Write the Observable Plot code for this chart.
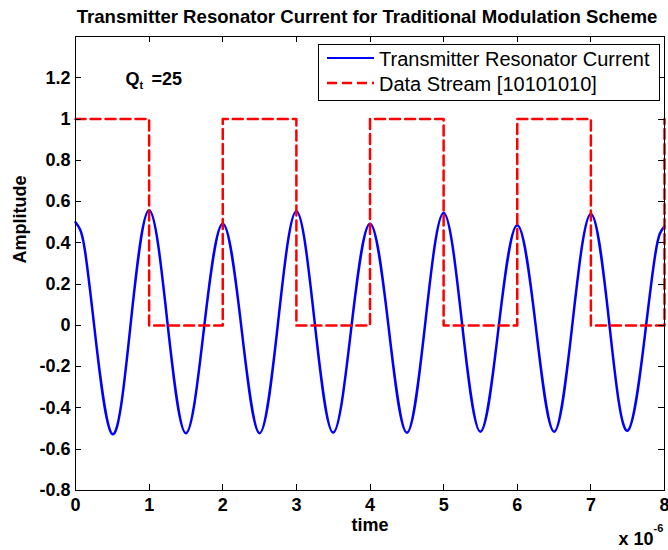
<!DOCTYPE html>
<html><head><meta charset="utf-8">
<script src="https://cdn.jsdelivr.net/npm/d3@7"></script>
<script src="https://cdn.jsdelivr.net/npm/@observablehq/plot@0.6"></script>
<style>
html,body{margin:0;padding:0;background:#fff}
#chart{width:668px;height:550px}
</style>
</head><body><div id="chart"></div>
<script>
// ---- data (time in units of 1e-6 s) ----
const time = [0, 0.0625, 0.125, 0.25, 0.5, 0.75, 1, 1.25, 1.5, 1.75, 2, 2.25, 2.5, 2.75, 3, 3.25, 3.5, 3.75,
  4, 4.25, 4.5, 4.75, 5, 5.25, 5.5, 5.75, 6, 6.25, 6.5, 6.75, 7, 7.25, 7.5, 7.75, 7.875, 7.9375, 8];
const current = [0.50, 0.465, 0.37, 0.01, -0.527, 0.01, 0.558, 0.01, -0.522, 0.0, 0.493, 0.0, -0.522, 0.01, 0.553, 0.01, -0.519, 0.0,
  0.493, 0.0, -0.520, 0.01, 0.545, 0.01, -0.515, 0.0, 0.485, 0.0, -0.515, 0.01, 0.540, 0.01, -0.510, 0.0, 0.345, 0.445, 0.480];
const bitTimes = [0, 1, 2, 3, 4, 5, 6, 7, 8];
const bits = [1, 0, 1, 0, 1, 0, 1, 0, 1];
const xTicks = [0, 1, 2, 3, 4, 5, 6, 7, 8];
const xTickLabels = ["0", "1", "2", "3", "4", "5", "6", "7", "8"];
const yTicks = [-0.8, -0.6, -0.4, -0.2, 0, 0.2, 0.4, 0.6, 0.8, 1, 1.2];
const yTickLabels = ["-0.8", "-0.6", "-0.4", "-0.2", "0", "0.2", "0.4", "0.6", "0.8", "1", "1.2"];
const seriesNames = ["Transmitter Resonator Current", "Data Stream [10101010]"];
const titleText = "Transmitter Resonator Current for Traditional Modulation Scheme";
const xLabel = "time";
const xExponent = ["x 10", "-6"];
const yLabel = "Amplitude";
const qLabel = ["Q", "t", "=25"];

// ---- layout ----
const W = 668, H = 550, mL = 75, mR = 4, mT = 36, mB = 60;
const FONT = "'Liberation Sans', Arial, Helvetica, sans-serif";
const BLUE = "#0000ff", RED = "#ff0000";
const TICK = 6;

const currentData = time.map((t, i) => ({t, v: current[i]}));
const streamData = bitTimes.map((t, i) => ({t, v: bits[i]}));

const plot = Plot.plot({
  width: W, height: H,
  marginLeft: mL, marginRight: mR, marginTop: mT, marginBottom: mB,
  style: {fontFamily: FONT, fontSize: "18px", fontWeight: "bold", background: "#fff", color: "#000", overflow: "visible"},
  x: {domain: [0, 8]},
  y: {domain: [-0.8, 1.4]},
  marks: [
    Plot.axisX(xTicks, {anchor: "bottom", tickSize: 0, tickPadding: 8, tickFormat: d => xTickLabels[xTicks.indexOf(d)], label: null, fontSize: 18, fontWeight: "bold"}),
    Plot.axisY(yTicks, {anchor: "left", tickSize: 0, tickPadding: 5, tickFormat: d => yTickLabels[yTicks.indexOf(d)], label: null, fontSize: 18, fontWeight: "bold"}),
    Plot.line(currentData, {x: "t", y: "v", curve: "natural", stroke: BLUE, strokeWidth: 2.5}),
    Plot.line(streamData, {x: "t", y: "v", curve: "step-after", stroke: RED, strokeWidth: 2.5, strokeDasharray: "10,5"}),
    Plot.frame({stroke: "#000", strokeWidth: 1}),
    // title & axis labels
    Plot.text([titleText], {frameAnchor: "top", lineAnchor: "bottom", dy: -14, dx: -3, fontSize: 18.6, fontWeight: "bold"}),
    Plot.text([xLabel], {frameAnchor: "bottom", lineAnchor: "bottom", dy: 40, fontSize: 18, fontWeight: "bold"}),
    Plot.text([xExponent[0]], {frameAnchor: "bottom-right", textAnchor: "end", lineAnchor: "bottom", dx: -11, dy: 54, fontSize: 18, fontWeight: "bold"}),
    Plot.text([xExponent[1]], {frameAnchor: "bottom-right", textAnchor: "start", lineAnchor: "bottom", dx: -11, dy: 41, fontSize: 11, fontWeight: "bold"}),
    Plot.text([yLabel], {frameAnchor: "left", rotate: -90, dx: -55, fontSize: 18, fontWeight: "bold"}),
    // Q_t annotation
    Plot.text([qLabel[0]], {frameAnchor: "top-left", textAnchor: "start", lineAnchor: "bottom", dx: 50, dy: 48, fontSize: 18, fontWeight: "bold"}),
    Plot.text([qLabel[1]], {frameAnchor: "top-left", textAnchor: "start", lineAnchor: "bottom", dx: 64, dy: 52, fontSize: 11, fontWeight: "bold"}),
    Plot.text([qLabel[2]], {frameAnchor: "top-left", textAnchor: "start", lineAnchor: "bottom", dx: 76, dy: 48, fontSize: 18, fontWeight: "bold"})
  ]
});
document.getElementById("chart").appendChild(plot);

const svg = d3.select(plot);
const xs = plot.scale("x"), ys = plot.scale("y");
const x0 = mL, x1 = W - mR, y0 = mT, y1 = H - mB;

// ---- inward ticks on all four sides (positions from Plot's scales) ----
const tg = svg.append("g").attr("stroke", "#000").attr("stroke-width", 1);
xTicks.forEach(t => {
  const px = Math.round(xs.apply(t)) + 0.5;
  tg.append("line").attr("x1", px).attr("x2", px).attr("y1", y1).attr("y2", y1 - TICK);
  tg.append("line").attr("x1", px).attr("x2", px).attr("y1", y0).attr("y2", y0 + TICK);
});
yTicks.forEach(v => {
  const py = Math.round(ys.apply(v)) + 0.5;
  tg.append("line").attr("x1", x0).attr("x2", x0 + TICK).attr("y1", py).attr("y2", py);
  tg.append("line").attr("x1", x1).attr("x2", x1 - TICK).attr("y1", py).attr("y2", py);
});

// ---- legend (inside the axes, top-right) ----
const lg = svg.append("g").attr("font-family", FONT).attr("font-size", 20)
  .attr("font-weight", "normal").attr("text-anchor", "start");
const box = {x: 318.5, y: 44.5, w: 341, h: 56};
lg.append("rect").attr("x", box.x).attr("y", box.y).attr("width", box.w).attr("height", box.h)
  .attr("fill", "#fff").attr("stroke", "#000").attr("stroke-width", 1);
const rows = [
  {name: seriesNames[0], color: BLUE, dash: null, y: 58},
  {name: seriesNames[1], color: RED, dash: "10,5", y: 83}
];
rows.forEach(r => {
  lg.append("line").attr("x1", 327).attr("x2", 374).attr("y1", r.y).attr("y2", r.y)
    .attr("stroke", r.color).attr("stroke-width", r.dash ? 2.5 : 2).attr("stroke-dasharray", r.dash);
  lg.append("text").attr("x", 379).attr("y", r.y + 7.5).attr("fill", "#000").text(r.name);
});
</script>
</body></html>
